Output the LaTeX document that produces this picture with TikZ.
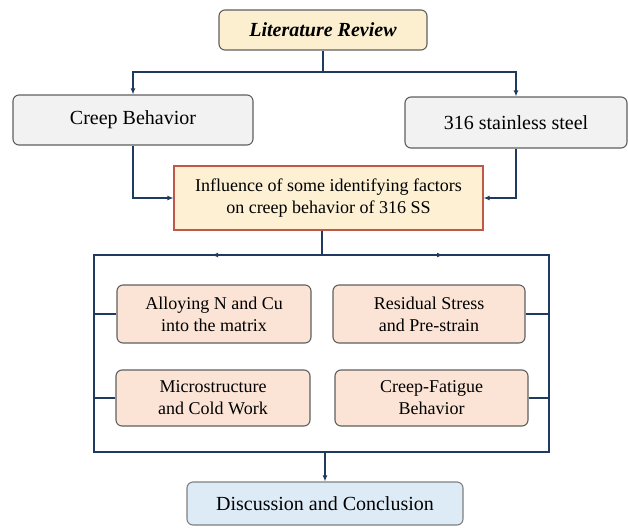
\documentclass[tikz,border=0pt]{standalone}
\usepackage{fontspec}
\setmainfont{Liberation Serif}
\usetikzlibrary{arrows.meta}
\definecolor{lineblue}{HTML}{1F3A5F}
\definecolor{lrfill}{HTML}{FCEFCF}
\definecolor{grayfill}{HTML}{F2F2F2}
\definecolor{inffill}{HTML}{FDF0D3}
\definecolor{infdraw}{HTML}{C0584A}
\definecolor{facfill}{HTML}{FBE4D5}
\definecolor{dcfill}{HTML}{DDEBF7}
\definecolor{boxdraw}{HTML}{5F5F5F}
\tikzset{
  box/.style={draw=boxdraw, line width=1.1pt, rounded corners=6pt, align=center, inner sep=0pt},
  lrbox/.style={box, fill=lrfill, font=\fontsize{20}{24}\selectfont\bfseries\itshape},
  graybox/.style={box, fill=grayfill, font=\fontsize{20}{24}\selectfont},
  infbox/.style={box, rounded corners=0pt, draw=infdraw, fill=inffill, font=\fontsize{18}{22}\selectfont},
  facbox/.style={box, fill=facfill, font=\fontsize{18}{22}\selectfont},
  dcbox/.style={box, draw=boxdraw!80, fill=dcfill, font=\fontsize{20}{24}\selectfont},
  conn/.style={draw=lineblue, line width=1.6pt},
  arr/.style={conn, -{Latex[length=6pt,width=5pt]}},
}
\begin{document}
\begin{tikzpicture}[x=1pt,y=-1pt]
\useasboundingbox (0,0) rectangle (628,527);
\node[lrbox, minimum width=208pt, minimum height=40pt] (lr) at (323,30) {Literature Review};
\node[graybox, minimum width=240pt, minimum height=50pt] (cb) at (133,120) {Creep Behavior};
\node[graybox, minimum width=222pt, minimum height=51pt] (ss) at (516,122.5) {316 stainless steel};
\node[infbox, minimum width=309pt, minimum height=64pt] (inf) at (328.5,198) {Influence of some identifying factors\\on creep behavior of 316 SS};
\node[facbox, minimum width=194pt, minimum height=58pt] (f1) at (214,314) {Alloying N and Cu\\into the matrix};
\node[facbox, minimum width=192pt, minimum height=58pt] (f2) at (429,314) {Residual Stress\\and Pre-strain};
\node[facbox, minimum width=194pt, minimum height=56pt] (f3) at (213,398) {Microstructure\\and Cold Work};
\node[facbox, minimum width=193pt, minimum height=56pt] (f4) at (431.5,398) {Creep-Fatigue\\Behavior};
\node[dcbox, minimum width=276pt, minimum height=43pt] (dc) at (325,503.5) {Discussion and Conclusion};

% top split
\coordinate (j1) at (323,72);
\draw[conn] (lr.south) -- (j1);
\draw[arr] (j1) -| (cb.north);
\draw[arr] (j1) -| (ss.north);
\draw[arr] (cb.south) |- (inf.west);
\draw[arr] (ss.south) |- (inf.east);

% frame
\coordinate (j2) at (322,255);
\coordinate (tl) at (94,255);
\coordinate (tr) at (549,255);
\coordinate (bl) at (94,452);
\coordinate (br) at (549,452);
\coordinate (a1) at (212,255);
\coordinate (a2) at (443,255);
\coordinate (j3) at (325,452);
\draw[conn] ([xshift=-6.5pt]inf.south) -- (j2);
\draw[conn] (tr) -- (tl) -- (bl) -- (br) -- cycle;
\draw[arr] (j2) -- (a1);
\draw[arr] (j2) -- (a2);
\draw[conn] (f1.west) -- (f1.west -| tl);
\draw[conn] (f3.west) -- (f3.west -| tl);
\draw[conn] (f2.east) -- (f2.east -| tr);
\draw[conn] (f4.east) -- (f4.east -| tr);
\draw[arr] (j3) -- (dc.north);
\end{tikzpicture}
\end{document}
